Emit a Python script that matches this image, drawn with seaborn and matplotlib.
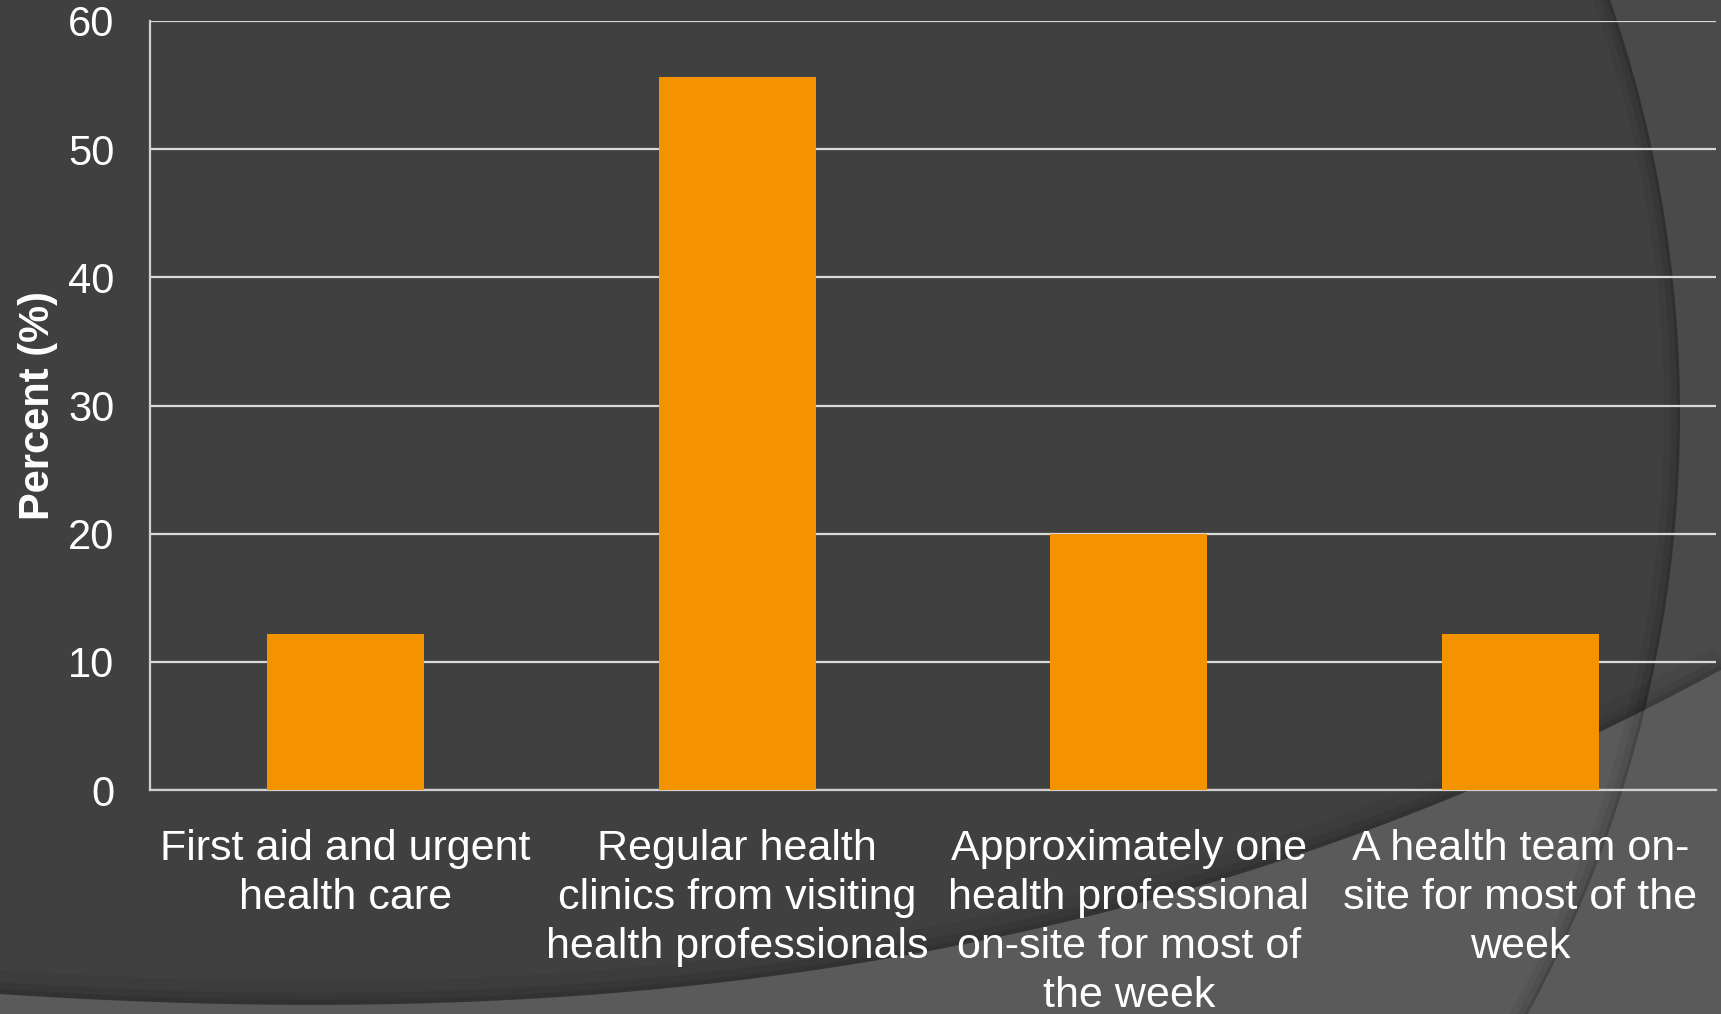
import numpy as np
import pandas as pd
import matplotlib
matplotlib.use('Agg')
import matplotlib.pyplot as plt
from matplotlib.patches import Circle, Polygon
import seaborn as sns

categories = ['First aid and urgent health care',
              'Regular health clinics from visiting health professionals',
              'Approximately one health professional on-site for most of the week',
              'A health team on-site for most of the week']
tick_labels = ['First aid and urgent\nhealth care',
               'Regular health\nclinics from visiting\nhealth professionals',
               'Approximately one\nhealth professional\non-site for most of\nthe week',
               'A health team on-\nsite for most of the\nweek']
percent = [12.2, 55.6, 20.0, 12.2]

df = pd.DataFrame({'category': categories, 'percent': percent})

sns.set_style('white')
plt.rcParams['font.family'] = ['Liberation Sans', 'DejaVu Sans']

W, H = 1721, 1014
fig = plt.figure(figsize=(W / 100, H / 100), dpi=100)
fig.patch.set_facecolor('#4a4a4a')

# background decoration in pixel coordinates
bg = fig.add_axes([0, 0, 1, 1], zorder=0)
bg.set_xlim(0, W)
bg.set_ylim(H, 0)
bg.axis('off')
cx, cy, r = 421, 414, 1259
bg.add_patch(Circle((cx, cy), r, facecolor='#404040', edgecolor='none', zorder=0))
# lighter band along the bottom
bx = np.array([0, 400, 700, 900, 1100, 1350, 1443, 1598, 1721])
by = np.array([997, 995, 985, 962, 925, 830, 792, 730, 677])
coef = np.polyfit(bx, by, 3)
gx = np.linspace(0, W, 200)
gy = np.polyval(coef, gx)
for off, a in [(10, 0.05), (5, 0.07), (2, 0.09)]:
    bg.plot(gx, gy - off, color='black', linewidth=off * 2, alpha=a, zorder=1,
            solid_capstyle='butt')
pts = list(zip(gx, gy)) + [(W, H), (0, H)]
bg.add_patch(Polygon(pts, closed=True, facecolor='#5a5a5a', edgecolor='none', zorder=2))
# soft shadow along the circle edge
for lw, a in [(16, 0.05), (9, 0.07), (3, 0.12)]:
    bg.add_patch(Circle((cx, cy), r - lw / 2, facecolor='none', edgecolor='black',
                        linewidth=lw * 0.72, alpha=a, zorder=3))

ax = fig.add_axes([150 / W, 1 - 790 / H, (1716 - 150) / W, (790 - 21) / H], zorder=1)
ax.set_facecolor('none')

sns.barplot(data=df, x='category', y='percent', color='#F49200', saturation=1,
            width=0.4, linewidth=0, ax=ax, zorder=3)

ax.set_xlim(-0.5, 3.5)
ax.set_ylim(0, 60)
ax.set_yticks(np.arange(0, 61, 10))
ax.yaxis.grid(True, color='#d9d9d9', linewidth=1.6, zorder=0)
ax.set_axisbelow(True)
for s in ['top', 'right']:
    ax.spines[s].set_visible(False)
for s in ['left', 'bottom']:
    ax.spines[s].set_color('#d0d0d0')
    ax.spines[s].set_linewidth(1.6)

ax.set_xticks(range(len(tick_labels)))
ax.set_xticklabels(tick_labels, fontsize=31, color='white', linespacing=1.29, va='top')
ax.set_xticks(np.arange(-0.5, 3.6, 1), minor=True)
ax.tick_params(axis='x', which='major', length=0, pad=28)
ax.tick_params(axis='x', which='minor', length=9, width=1.6, color='#d0d0d0', direction='out')
ax.tick_params(axis='y', length=9.5, width=1.6, color='#d0d0d0', direction='out',
               labelsize=30, labelcolor='white', pad=16)

ax.set_xlabel('')
ax.set_ylabel('Percent (%)', fontsize=30, fontweight='bold', color='white')
ax.yaxis.set_label_coords(-92 / (1716 - 150), 0.5)

fig.savefig('out.png', dpi=100, facecolor=fig.get_facecolor())
